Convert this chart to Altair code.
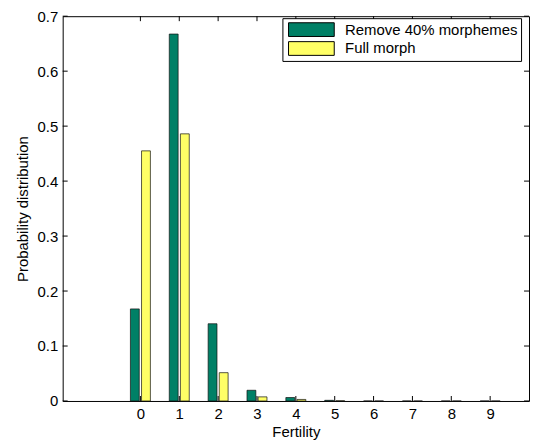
import altair as alt
import pandas as pd

# ---- data ----
fertility = [0, 1, 2, 3, 4, 5, 6, 7, 8, 9]
remove_40 = [0.1675, 0.6675, 0.1405, 0.0195, 0.0063, 0.0012, 0.0, 0.0, 0.0, 0.0]
full_morph = [0.455, 0.486, 0.0515, 0.0075, 0.0028, 0.0004, 0.0, 0.0, 0.0, 0.0]
series_names = ["Remove 40% morphemes", "Full morph"]
series_colors = ["#008066", "#FFFF66"]
x_ticks = [0, 1, 2, 3, 4, 5, 6, 7, 8, 9]
y_ticks = [0.0, 0.1, 0.2, 0.3, 0.4, 0.5, 0.6, 0.7]

FONT = "Liberation Sans"
FS = 15
W, H = 469, 387

# grouped bars (MATLAB style: two bars of width 0.229 around each integer)
rows = []
for f, a, b in zip(fertility, remove_40, full_morph):
    rows.append({"fertility": f, "series": series_names[0], "value": a,
                 "x0": f - 0.257, "x1": f - 0.029})
    rows.append({"fertility": f, "series": series_names[1], "value": b,
                 "x0": f + 0.029, "x1": f + 0.257})
df = pd.DataFrame(rows)

xscale = alt.Scale(domain=[-2, 10], nice=False, zero=False)
yscale = alt.Scale(domain=[0, 0.7], nice=False)
xaxis = alt.Axis(values=x_ticks, format="d", title="Fertility",
                 labelPadding=6, titlePadding=3)
yaxis = alt.Axis(values=y_ticks, format=".1~f", title="Probability distribution",
                 labelPadding=5, titlePadding=7)

bars = alt.Chart(df).mark_rect(stroke="#111111", strokeWidth=0.7).encode(
    x=alt.X("x0:Q", scale=xscale, axis=xaxis),
    x2="x1:Q",
    y=alt.Y("value:Q", scale=yscale, axis=yaxis),
    y2=alt.datum(0),
    color=alt.Color(
        "series:N",
        scale=alt.Scale(domain=series_names, range=series_colors),
        legend=alt.Legend(
            title=None, orient="none", legendX=221, legendY=2,
            symbolType="M-0.7,-0.9H5.3V0.9H-0.7Z", symbolSize=235,
            symbolStrokeColor="black", symbolStrokeWidth=1, symbolOpacity=1,
            labelFont=FONT, labelFontSize=FS, labelColor="black",
            labelOffset=43, labelLimit=400,
            strokeColor="black", fillColor="white", padding=3, rowPadding=0,
        ),
    ),
)

ytick_df = pd.DataFrame({"v": y_ticks})
xtick_df = pd.DataFrame({"v": x_ticks})

tick_left = alt.Chart(ytick_df).mark_rule(color="black", strokeWidth=1).encode(
    y=alt.Y("v:Q", scale=yscale, axis=yaxis), x=alt.value(0), x2=alt.value(5))
tick_right = alt.Chart(ytick_df).mark_rule(color="black", strokeWidth=1).encode(
    y=alt.Y("v:Q", scale=yscale, axis=yaxis), x=alt.value(W - 5), x2=alt.value(W))
tick_bottom = alt.Chart(xtick_df).mark_rule(color="black", strokeWidth=1).encode(
    x=alt.X("v:Q", scale=xscale, axis=xaxis), y=alt.value(H - 5), y2=alt.value(H))
tick_top = alt.Chart(xtick_df).mark_rule(color="black", strokeWidth=1).encode(
    x=alt.X("v:Q", scale=xscale, axis=xaxis), y=alt.value(0), y2=alt.value(5))

chart = alt.layer(bars, tick_left, tick_right, tick_bottom, tick_top).properties(
    width=W, height=H,
    padding={"left": 7, "top": 0, "right": 0, "bottom": 0},
).configure_view(
    stroke="black", strokeWidth=1
).configure_axis(
    grid=False, domain=False, ticks=False,
    labelFont=FONT, titleFont=FONT, labelFontSize=FS, titleFontSize=FS,
    labelColor="black", titleColor="black", titleFontWeight="normal",
)

chart.save("out.html", embed_options={"renderer": "svg", "actions": False})
